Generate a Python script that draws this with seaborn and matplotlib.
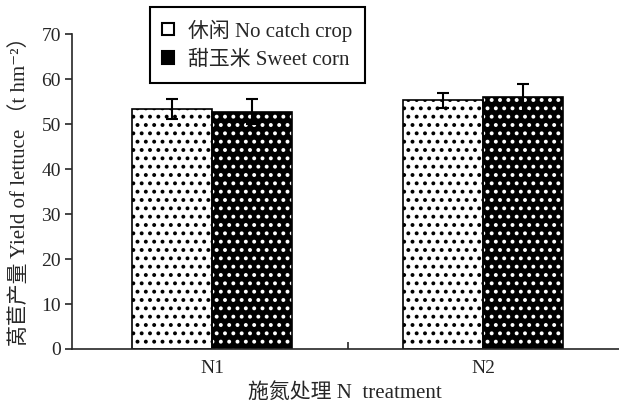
import pandas as pd
import matplotlib.pyplot as plt
import seaborn as sns
from matplotlib.patches import Rectangle, Patch

# values
TREATMENTS = ["N1", "N2"]
CROPS = ["休闲 No catch crop", "甜玉米 Sweet corn"]
YIELD_FALLOW = [53.3, 55.3]
YIELD_CORN = [52.7, 55.9]
ERR_FALLOW = [2.2, 1.7]
ERR_CORN = [2.8, 3.0]

df = pd.DataFrame({
    "treatment": TREATMENTS * 2,
    "crop": [CROPS[0]] * 2 + [CROPS[1]] * 2,
    "yield": YIELD_FALLOW + YIELD_CORN,
    "err": ERR_FALLOW + ERR_CORN,
})

sns.set_style("ticks")
FONT = ["Liberation Serif", "Noto Sans CJK SC", "DejaVu Serif"]
plt.rcParams["font.family"] = FONT
plt.rcParams["hatch.linewidth"] = 1.6

fig = plt.figure(figsize=(6.19, 4.03), dpi=100)
ax = fig.add_axes([0.1163, 0.134, 0.883, 0.7816])

sns.barplot(data=df, x="treatment", y="yield", hue="crop", order=TREATMENTS,
            hue_order=CROPS, palette=["white", "black"], width=0.59,
            errorbar=None, legend=False, ax=ax)

# patches come out hue level first, then category
bars = list(ax.patches)
for i, p in enumerate(bars):
    dark = i >= len(TREATMENTS)
    p.set_hatch("..")
    p.set_edgecolor("white" if dark else "black")
    p.set_linewidth(0)
    ax.add_patch(Rectangle(p.get_xy(), p.get_width(), p.get_height(),
                           fill=False, edgecolor="black", lw=1.2, zorder=p.get_zorder() + 0.1))
    row = df.iloc[i]
    ax.errorbar(p.get_x() + p.get_width() / 2, row["yield"], yerr=row["err"],
                fmt="none", ecolor="black", elinewidth=1.5, capsize=4, capthick=1.5, zorder=5)

ax.set_ylim(0, 70)
ax.set_xlim(-0.517, 1.5)
ax.set_yticks(range(0, 71, 10))
ax.set_xticks([0.5], minor=True)
ax.tick_params(axis="x", which="major", length=0, labelsize=14, pad=8)
ax.tick_params(axis="x", which="minor", direction="in", length=5, width=1.2)
ax.tick_params(axis="y", direction="out", length=5, width=1.2, labelsize=14, pad=3)
sns.despine(ax=ax)
for s in ["left", "bottom"]:
    ax.spines[s].set_linewidth(1.2)

ax.set_xlabel("施氮处理 N  treatment", fontsize=15, labelpad=4)
ax.set_ylabel("莴苣产量 Yield of lettuce （t hm⁻²）", fontsize=15)
ax.yaxis.set_label_coords(-0.077, 0.515)

handles = [Patch(facecolor="white", edgecolor="black", lw=1.5),
           Patch(facecolor="black", edgecolor="black", lw=1.5)]
leg = fig.legend(handles, CROPS, loc="upper left", bbox_to_anchor=(0.242, 0.983),
                 fontsize=15, frameon=True, fancybox=False, edgecolor="black",
                 handlelength=0.55, handleheight=0.55, handletextpad=0.7,
                 borderpad=0.6, labelspacing=0.45, borderaxespad=0)
leg.get_frame().set_linewidth(1.5)
leg.get_frame().set_alpha(1)

fig.savefig("out.png", dpi=100)
